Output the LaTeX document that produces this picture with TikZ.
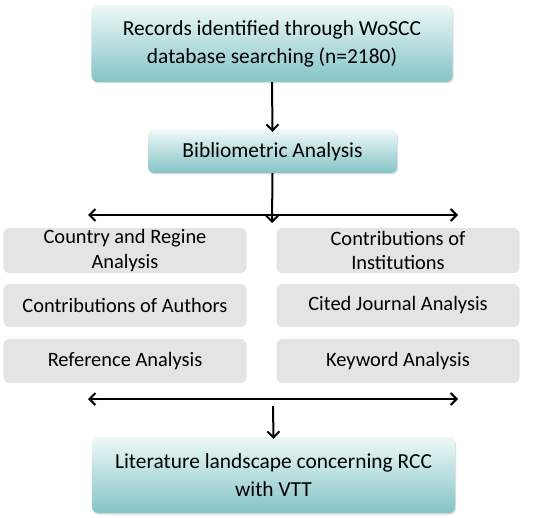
\documentclass[tikz,border=0pt]{standalone}
\usepackage{fontspec}
\setmainfont{Carlito}
\usetikzlibrary{arrows.meta,shadows}
\definecolor{tealtop}{HTML}{EEF8F8}
\definecolor{tealbot}{HTML}{84C4C6}
\definecolor{graybox}{HTML}{E4E4E4}
\tikzset{
  mainbox/.style={rounded corners=6bp, top color=tealtop, bottom color=tealbot, draw=none,
    drop shadow={shadow xshift=1bp, shadow yshift=-1.5bp, opacity=0.25}, inner sep=0pt, align=center, font=\fontsize{21.5}{28}\selectfont},
  subbox/.style={rounded corners=6bp, fill=graybox, draw=none, inner sep=0pt, align=center, font=\fontsize{20.5}{25}\selectfont},
  arr/.style={line width=2bp, -{Straight Barb[length=6bp,width=12bp,line width=2bp]}},
  darr/.style={line width=2bp, {Straight Barb[length=6bp,width=12bp,line width=2bp]}-{Straight Barb[length=6bp,width=12bp,line width=2bp]}},
}
\begin{document}
\begin{tikzpicture}[x=1bp,y=-1bp]
\useasboundingbox (0,0) rectangle (539,518);
\fill[white] (0,0) rectangle (539,518);
\node[mainbox, minimum width=361bp, minimum height=77bp] (rec) at (272,43.5) {Records identified through WoSCC\\database searching (n=2180)};
\node[mainbox, minimum width=249bp, minimum height=43bp] (bib) at (272.5,151.5) {Bibliometric Analysis};
\coordinate (h1l) at (88,215);
\coordinate (h1r) at (458,215);
\coordinate (h1c) at (272,215);
\node[subbox, minimum width=243bp, minimum height=45bp] (country) at (125,250.5) {Country and Regine\\Analysis};
\node[subbox, minimum width=243bp, minimum height=45bp] (inst) at (398,250.5) {Contributions of\\Institutions};
\node[subbox, minimum width=243bp, minimum height=43bp] (auth) at (125,305.5) {Contributions of Authors};
\node[subbox, minimum width=243bp, minimum height=43bp] (jour) at (398,305.5) {Cited Journal Analysis};
\node[subbox, minimum width=243bp, minimum height=44bp] (ref) at (125,361) {Reference Analysis};
\node[subbox, minimum width=243bp, minimum height=44bp] (key) at (398,361) {Keyword Analysis};
\coordinate (h2l) at (88,399);
\coordinate (h2r) at (458,399);
\coordinate (h2c) at (273,406);
\node[mainbox, minimum width=363bp, minimum height=76bp] (lit) at (273.5,475) {Literature landscape concerning RCC\\with VTT};
\draw[arr] (rec.south) -- ([yshift=-2bp]bib.north);
\draw[arr] (bib.south) -- ([yshift=-8bp]h1c);
\draw[darr] (h1l) -- (h1r);
\draw[darr] (h2l) -- (h2r);
\draw[arr] (h2c) -- ([yshift=-2bp]lit.north);
\end{tikzpicture}
\end{document}
